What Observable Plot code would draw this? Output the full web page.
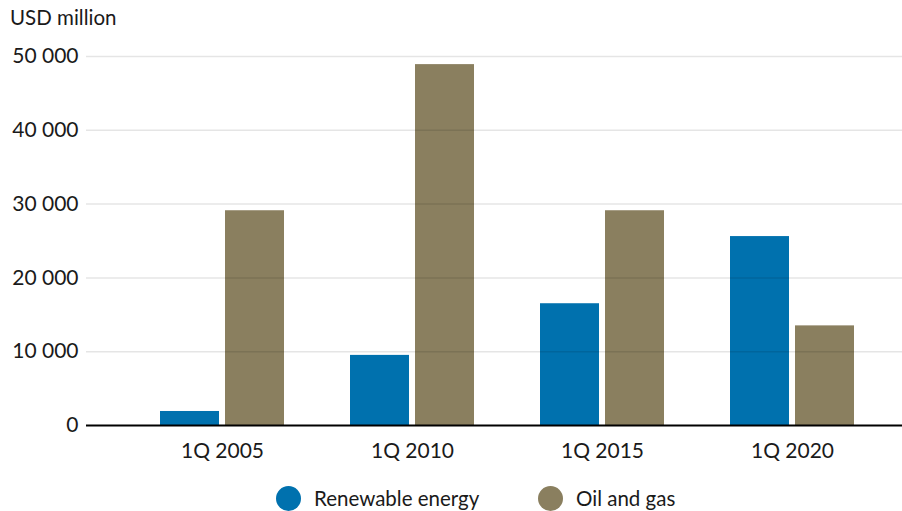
<!DOCTYPE html>
<html>
<head>
<meta charset="utf-8">
<script src="https://cdn.jsdelivr.net/npm/d3@7"></script>
<script src="https://cdn.jsdelivr.net/npm/@observablehq/plot@0.6"></script>
<style>
  body { margin: 0; background: #fff; font-family: Lato, "Open Sans", sans-serif; color: #1a1a1a; }
  #title { height: 36px; box-sizing: border-box; padding: 7px 0 0 10px; font-size: 20.5px; line-height: 20px; }
  #legend { position: relative; height: 35px; }
  .item { position: absolute; top: 10px; display: flex; align-items: center; font-size: 20.5px; line-height: 25px; }
  .dot { width: 25px; height: 25px; border-radius: 50%; margin-right: 13px; }
</style>
</head>
<body>
<div id="title">USD million</div>
<div id="chart"></div>
<div id="legend"></div>
<script>
const quarters = ["1Q 2005", "1Q 2010", "1Q 2015", "1Q 2020"];
const series = ["Renewable energy", "Oil and gas"];
const renewable = [1900, 9500, 16500, 25600];
const oilGas = [29100, 48900, 29100, 13500];
const yTicks = [0, 10000, 20000, 30000, 40000, 50000];
const colors = ["#0071ae", "#8a7f5f"];

const renewableData = quarters.map((q, i) => ({quarter: q, series: series[0], value: renewable[i]}));
const oilData = quarters.map((q, i) => ({quarter: q, series: series[1], value: oilGas[i]}));

const fmt = d3.formatLocale({decimal: ".", thousands: " ", grouping: [3], currency: ["", ""]}).format(",");

const chart = Plot.plot({
  width: 902,
  height: 440,
  marginLeft: 86,
  marginRight: 0,
  marginTop: 20,
  marginBottom: 51,
  style: {fontFamily: "Lato, 'Open Sans', sans-serif", fontSize: "21px", color: "#1a1a1a", background: "#fff"},
  x: {domain: quarters, range: [126, 887], paddingInner: 0.348, paddingOuter: 0.174},
  y: {domain: [0, 50000]},
  color: {domain: series, range: colors},
  marks: [
    Plot.barY(renewableData, {x: "quarter", y: "value", fill: "series", insetRight: 65}),
    Plot.barY(oilData, {x: "quarter", y: "value", fill: "series", insetLeft: 65}),
    Plot.ruleY(yTicks.filter(d => d > 0), {stroke: "#000", strokeOpacity: 0.1, strokeWidth: 1.5}),
    Plot.ruleY([0], {stroke: "#000", strokeWidth: 2}),
    Plot.axisY({ticks: yTicks, tickSize: 0, tickPadding: 8, tickFormat: d => fmt(d), label: null}),
    Plot.axisX({tickSize: 0, tickPadding: 18, label: null})
  ]
});
document.getElementById("chart").appendChild(chart);

const legend = document.getElementById("legend");
const lx = [276, 538];
series.forEach((s, i) => {
  const it = document.createElement("div");
  it.className = "item";
  it.style.left = lx[i] + "px";
  const dot = document.createElement("span");
  dot.className = "dot";
  dot.style.background = colors[i];
  it.appendChild(dot);
  it.appendChild(document.createTextNode(s));
  legend.appendChild(it);
});
</script>
</body>
</html>
